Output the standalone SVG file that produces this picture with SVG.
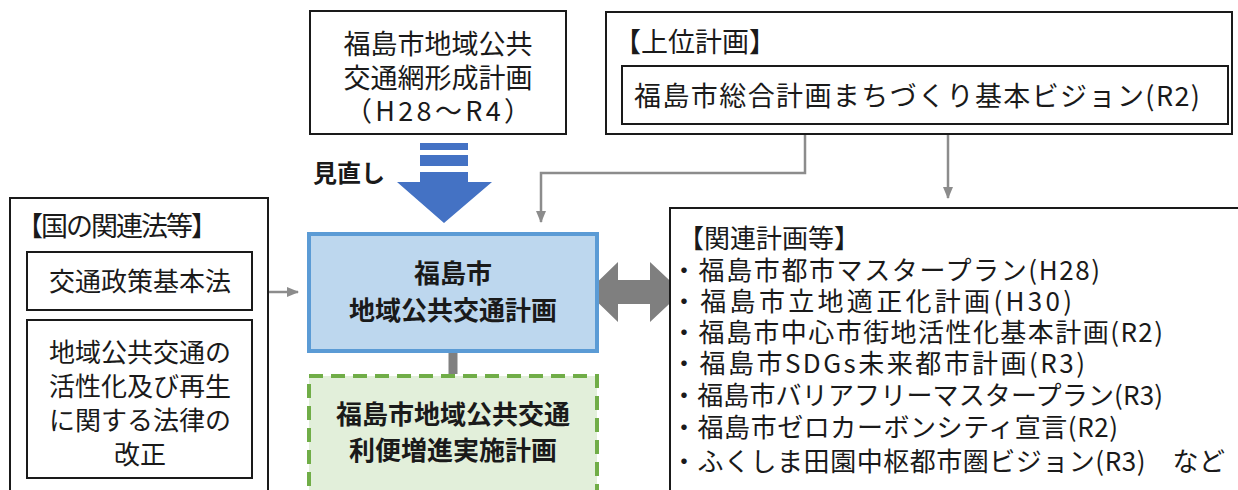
<svg xmlns="http://www.w3.org/2000/svg" width="1238" height="490" viewBox="0 0 1238 490">
<defs>
<style>
text{font-family:"Noto Sans CJK JP","Noto Sans",sans-serif;fill:#1a1a1a}
.t{font-size:26px}
.c{text-anchor:middle}
.b{font-weight:bold}
.box{fill:#fff;stroke:#1a1a1a;stroke-width:2}
.con{fill:none;stroke:#8c8c8c;stroke-width:2.5}
</style>
<marker id="ah2" viewBox="0 0 12 10" refX="11" refY="5" markerWidth="12" markerHeight="10" orient="auto" markerUnits="userSpaceOnUse">
<path d="M0,0 L12,5 L0,10 z" fill="#8c8c8c"/>
</marker>
</defs>
<g id="connectors">
<path class="con" d="M805,134 V173 H541 V222" marker-end="url(#ah2)"/>
<path class="con" d="M948,134 V198" marker-end="url(#ah2)"/>
<path class="con" d="M268,292 H298" marker-end="url(#ah2)"/>
<path d="M453,352 V374" stroke="#808080" stroke-width="9" fill="none"/>
<path d="M587,292 L618,262 V280 H650 V262 L682,292 L650,322 V304 H618 V322 Z" fill="#7f7f7f"/>
<g id="review-arrow">
<rect x="420" y="143" width="48" height="7" fill="#4472c4"/>
<rect x="420" y="155" width="48" height="11" fill="#4472c4"/>
<path d="M420,172 H468 V182 H492 L444,223 L397,182 H420 Z" fill="#4472c4"/>
<text x="313" y="182" class="b" style="font-size:24px">見直し</text>
</g>
</g>
<g id="network-plan">
<rect class="box" x="310" y="11" width="256" height="123"/>
<text class="c" x="438" y="54" style="font-size:27px">福島市地域公共</text>
<text class="c" x="438" y="88" style="font-size:27px">交通網形成計画</text>
<text x="345" y="121" style="font-size:27px" textLength="186" lengthAdjust="spacing">（H28～R4）</text>
</g>
<g id="upper-plan">
<rect class="box" x="606" y="12" width="626" height="122"/>
<text class="t" x="614" y="52" style="font-size:27px">【上位計画】</text>
<rect class="box" x="622" y="66" width="606" height="58"/>
<text x="634" y="106" style="font-size:27px" textLength="566" lengthAdjust="spacing">福島市総合計画まちづくり基本ビジョン(R2)</text>
</g>
<g id="national-laws">
<rect class="box" x="10" y="198" width="258" height="300"/>
<text x="16" y="236" style="font-size:27px" textLength="202" lengthAdjust="spacing">【国の関連法等】</text>
<rect class="box" x="27" y="252" width="225" height="58"/>
<text class="t c" x="140" y="291">交通政策基本法</text>
<rect class="box" x="27" y="320" width="225" height="158"/>
<text class="t c" x="140" y="362">地域公共交通の</text>
<text class="t c" x="140" y="396">活性化及び再生</text>
<text class="t c" x="140" y="430">に関する法律の</text>
<text class="t c" x="140" y="464">改正</text>
</g>
<g id="main-plan">
<rect x="309" y="234" width="288" height="117" fill="#bdd7ee" stroke="#5b9bd5" stroke-width="4"/>
<text class="t c b" x="453" y="283">福島市</text>
<text class="t c b" x="453" y="320">地域公共交通計画</text>
</g>
<g id="convenience-plan">
<rect x="309" y="376" width="288" height="130" fill="#e2efda" stroke="#70ad47" stroke-width="4" stroke-dasharray="14,8"/>
<text class="t c b" x="453" y="424">福島市地域公共交通</text>
<text class="t c b" x="453" y="460">利便増進実施計画</text>
</g>
<g id="related-plans">
<rect class="box" x="670" y="208" width="580" height="300"/>
<text class="t" x="678" y="248">【関連計画等】</text>
<text class="t" x="671" y="280" textLength="429" lengthAdjust="spacing">・福島市都市マスタープラン(H28)</text>
<text class="t" x="671" y="311" textLength="401" lengthAdjust="spacing">・福島市立地適正化計画(H30)</text>
<text class="t" x="671" y="342" textLength="492" lengthAdjust="spacing">・福島市中心市街地活性化基本計画(R2)</text>
<text class="t" x="671" y="373" textLength="414" lengthAdjust="spacing">・福島市SDGs未来都市計画(R3)</text>
<text class="t" x="671" y="405" textLength="492" lengthAdjust="spacing">・福島市バリアフリーマスタープラン(R3)</text>
<text class="t" x="671" y="437" textLength="447" lengthAdjust="spacing">・福島市ゼロカーボンシティ宣言(R2)</text>
<text class="t" x="671" y="471" textLength="554" lengthAdjust="spacing">・ふくしま田園中枢都市圏ビジョン(R3)　など</text>
</g>
</svg>
